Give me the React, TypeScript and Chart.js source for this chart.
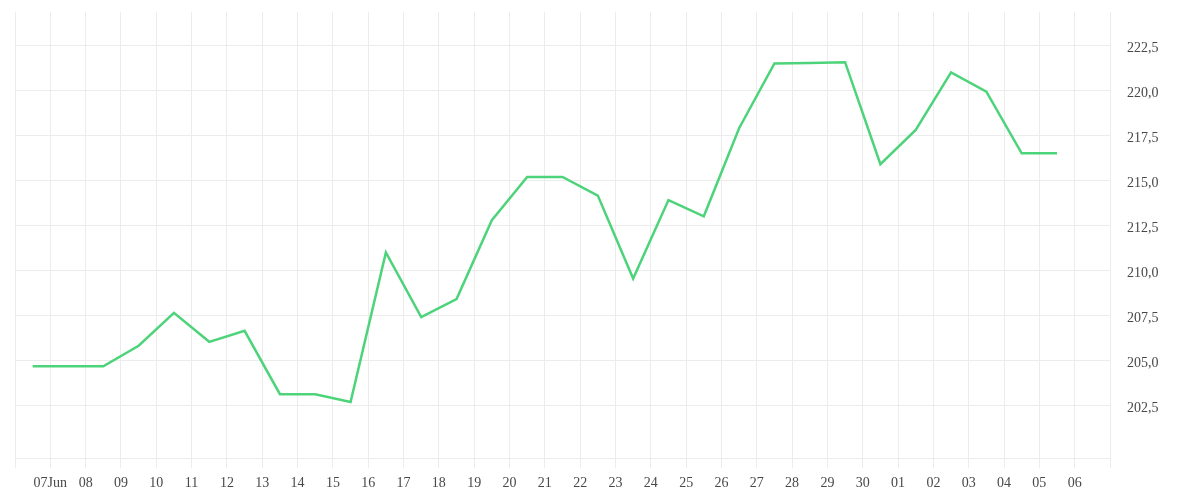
import React, { useEffect, useRef } from "react";
import { Chart, registerables } from "chart.js";

Chart.register(...registerables);

const dayLabels: string[] = [
  "", "07Jun", "08", "09", "10", "11", "12", "13", "14", "15", "16", "17", "18", "19", "20",
  "21", "22", "23", "24", "25", "26", "27", "28", "29", "30", "01", "02", "03", "04", "05", "06", "",
];

const prices: number[] = [
  204.66, 204.66, 204.66, 205.8, 207.63, 206.02, 206.63, 203.11, 203.11, 202.67,
  210.99, 207.4, 208.4, 212.78, 215.19, 215.19, 214.15, 209.54, 213.9, 213.0,
  217.9, 221.5, 221.53, 221.57, 215.9, 217.8, 221.0, 219.93, 216.5, 216.5,
];

const yTickValues: number[] = [202.5, 205, 207.5, 210, 212.5, 215, 217.5, 220, 222.5];
const yMin = 199.56;
const yMax = 224.36;

export default function App() {
  const ref = useRef<HTMLCanvasElement | null>(null);

  useEffect(() => {
    if (!ref.current) return;
    const points = prices.map((v, i) => ({ x: i + 0.5, y: v }));
    const grid = "#ececec";
    const chart = new Chart(ref.current, {
      type: "line",
      data: {
        datasets: [
          {
            data: points,
            borderColor: "#4dd37a",
            borderWidth: 2.5,
            pointRadius: 0,
            tension: 0,
            fill: false,
          },
        ],
      },
      options: {
        animation: false,
        responsive: true,
        maintainAspectRatio: false,
        layout: { padding: { top: 4, left: 7, right: 0, bottom: 0 } },
        plugins: { legend: { display: false }, tooltip: { enabled: false } },
        scales: {
          x: {
            type: "linear",
            min: 0,
            max: dayLabels.length - 1,
            afterBuildTicks: (scale: any) => {
              scale.ticks = dayLabels.map((_, i) => ({ value: i }));
            },
            afterFit: (scale: any) => {
              scale.height = 34;
              scale.paddingLeft = 0;
              scale.paddingRight = 0;
            },
            ticks: {
              autoSkip: false,
              maxRotation: 0,
              padding: 7,
              color: "#484848",
              font: { family: "Liberation Serif", size: 14 },
              callback: (v: any) => dayLabels[Math.round(Number(v))] ?? "",
            },
            grid: { color: grid, tickLength: 10, lineWidth: 1 },
            border: { color: grid },
          },
          y: {
            position: "right",
            min: yMin,
            max: yMax,
            afterBuildTicks: (scale: any) => {
              scale.ticks = yTickValues.map((v) => ({ value: v }));
            },
            afterFit: (scale: any) => {
              scale.width = 82;
              scale.paddingTop = 0;
              scale.paddingBottom = 0;
            },
            ticks: {
              padding: 17,
              labelOffset: 3,
              color: "#484848",
              font: { family: "Liberation Serif", size: 14 },
              callback: (v: any) => Number(v).toFixed(1).replace(".", ","),
            },
            grid: { color: grid, drawTicks: false },
            border: { color: grid },
          },
        },
      },
    });
    return () => chart.destroy();
  }, []);

  return (
    <div style={{ width: "100%", height: 484, position: "relative" }}>
      <canvas ref={ref} />
    </div>
  );
}
